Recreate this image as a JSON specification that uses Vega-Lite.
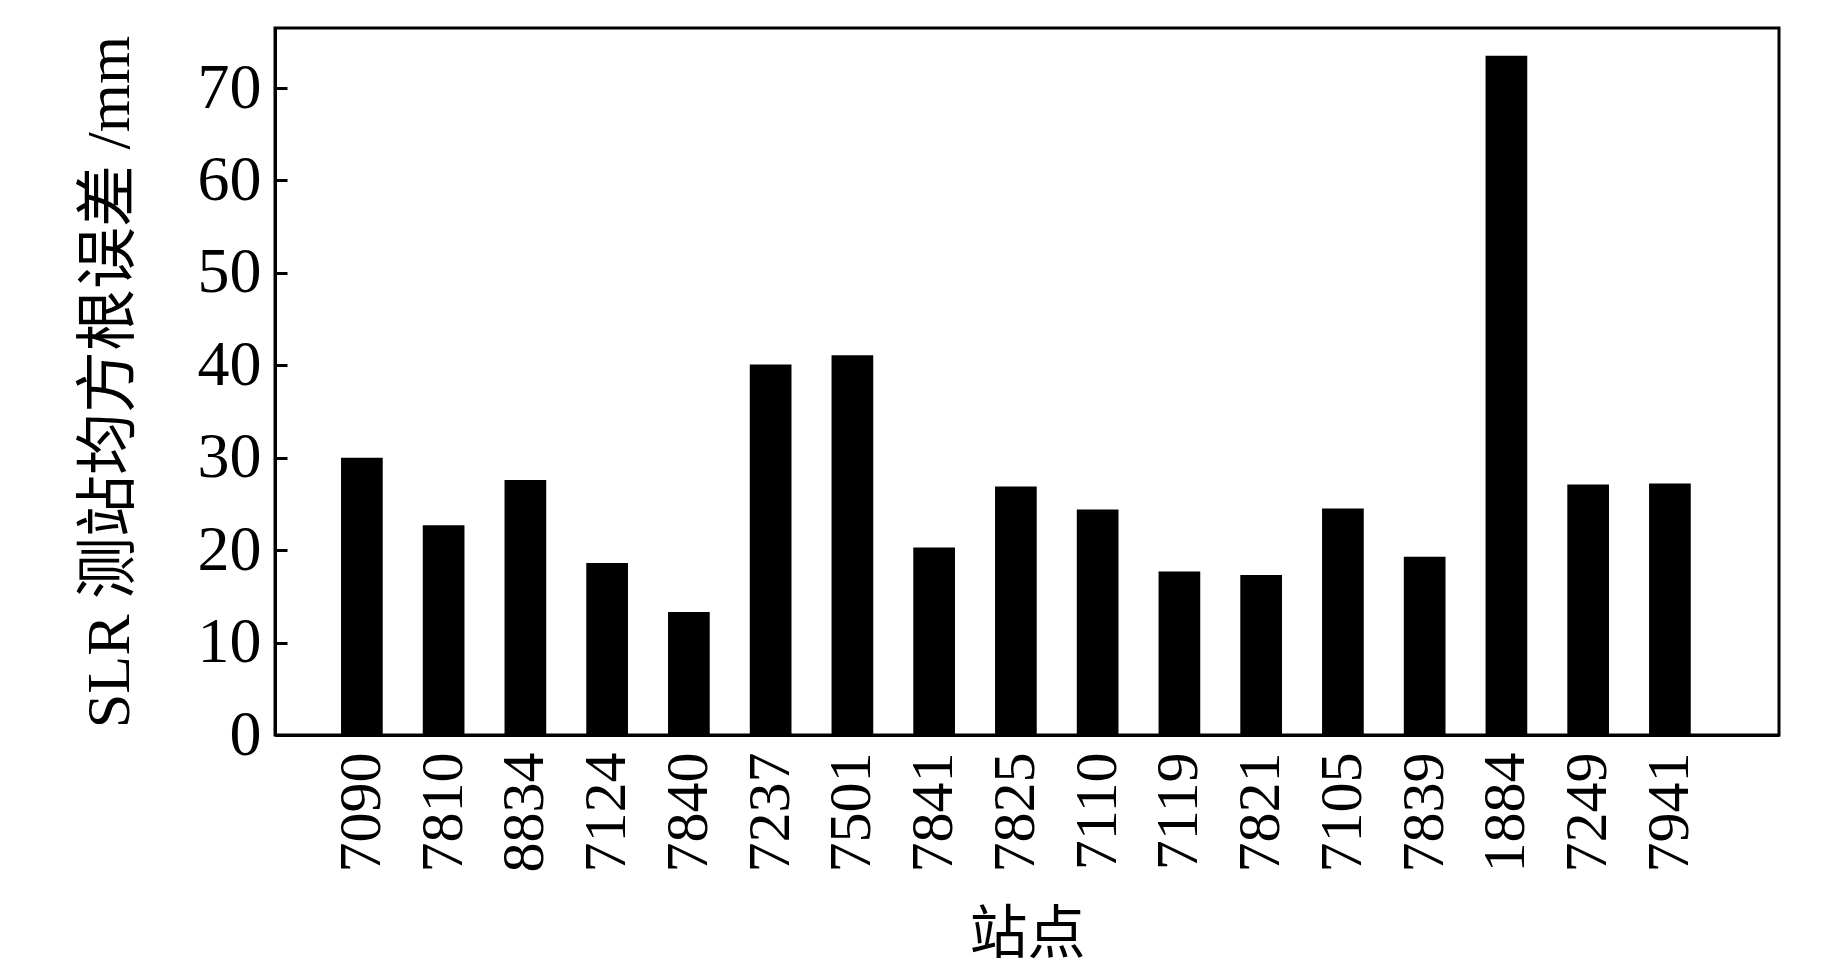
{
  "$schema": "https://vega.github.io/schema/vega-lite/v6.json",
  "width": 1504,
  "height": 707,
  "autosize": {"type": "none"},
  "padding": {"left": 275, "top": 28, "right": 64, "bottom": 234},
  "background": "white",
  "config": {
    "view": {"stroke": "black", "strokeWidth": 3},
    "font": "Times New Roman, Liberation Serif, Tinos, serif"
  },
  "data": {
    "values": [
      {"station": "7090", "rmse": 30.0},
      {"station": "7810", "rmse": 22.7},
      {"station": "8834", "rmse": 27.6},
      {"station": "7124", "rmse": 18.6},
      {"station": "7840", "rmse": 13.3},
      {"station": "7237", "rmse": 40.1},
      {"station": "7501", "rmse": 41.1},
      {"station": "7841", "rmse": 20.3},
      {"station": "7825", "rmse": 26.9},
      {"station": "7110", "rmse": 24.4},
      {"station": "7119", "rmse": 17.7},
      {"station": "7821", "rmse": 17.3},
      {"station": "7105", "rmse": 24.5},
      {"station": "7839", "rmse": 19.3},
      {"station": "1884", "rmse": 73.5},
      {"station": "7249", "rmse": 27.1},
      {"station": "7941", "rmse": 27.2}
    ]
  },
  "mark": {"type": "bar", "color": "black"},
  "encoding": {
    "x": {
      "field": "station",
      "type": "nominal",
      "sort": null,
      "scale": {"paddingInner": 0.49, "paddingOuter": 0.9435, "align": 0.428},
      "axis": {
        "title": "站点",
        "labelAngle": -90,
        "labelAlign": "right",
        "labelBaseline": "middle",
        "ticks": false,
        "labelPadding": 17,
        "labelFontSize": 60,
        "labelFont": "Times New Roman, Liberation Serif, Tinos, serif",
        "labelColor": "black",
        "titleFontSize": 58,
        "titleFont": "Times New Roman, Liberation Serif, Noto Sans CJK SC, serif",
        "titleFontWeight": "normal",
        "titleColor": "black",
        "titlePadding": 34,
        "domainColor": "black",
        "domainWidth": 3
      }
    },
    "y": {
      "field": "rmse",
      "type": "quantitative",
      "scale": {"domain": [0, 76.5], "nice": false},
      "axis": {
        "title": "SLR 测站均方根误差 /mm",
        "values": [0, 10, 20, 30, 40, 50, 60, 70],
        "grid": false,
        "tickSize": -12,
        "tickWidth": 3,
        "tickColor": "black",
        "labelPadding": 26,
        "labelFontSize": 64,
        "labelFont": "Times New Roman, Liberation Serif, Tinos, serif",
        "labelColor": "black",
        "titleFontSize": 62,
        "titleFont": "Times New Roman, Liberation Serif, Noto Sans CJK SC, serif",
        "titleFontWeight": "normal",
        "titleColor": "black",
        "titlePadding": 56,
        "domainColor": "black",
        "domainWidth": 3
      }
    }
  }
}
